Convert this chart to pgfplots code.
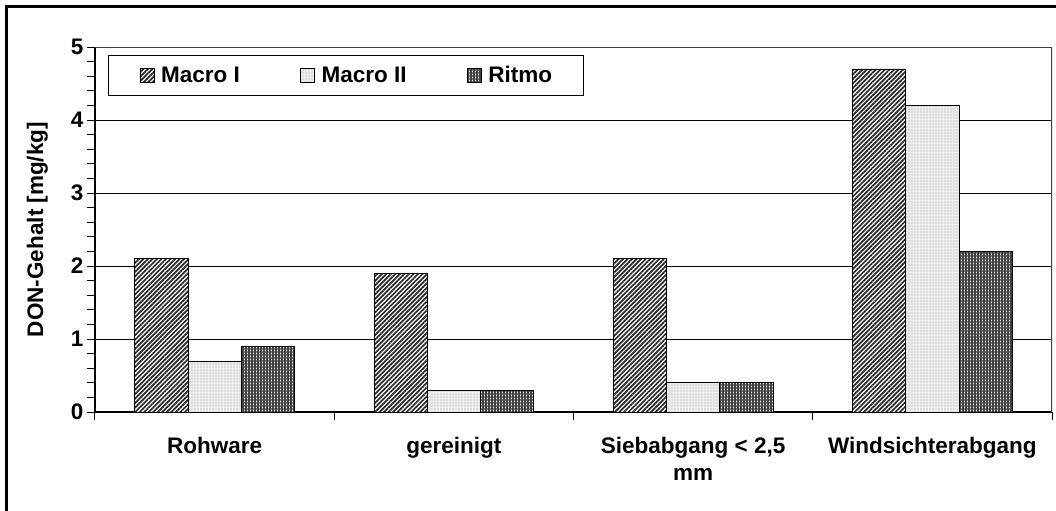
\documentclass[border=0pt]{standalone}
\usepackage{fontspec}
\setmainfont{Liberation Sans}
\usepackage{pgfplots}
\pgfplotsset{compat=1.18}
\usetikzlibrary{patterns.meta}
\pgfplotsset{
  mylegend/.style={legend image code/.code={\draw[##1,line width=0.7bp] (0bp,-7bp) rectangle (14bp,7bp);}},
}
\begin{document}
\begin{tikzpicture}[font=\bfseries\fontsize{22.5bp}{27bp}\selectfont]
\useasboundingbox (-95bp,-99bp) rectangle (961bp,412bp);
\begin{axis}[
  at={(0,0)}, anchor=south west,
  scale only axis, width=957bp, height=365bp,
  xmin=-0.5, xmax=3.5, ymin=0, ymax=5,
  axis x line*=bottom, axis y line*=left,
  axis line style={black, line width=1.3bp, -},
  ybar=0pt, bar width=53.2bp,
  xtick={0,1,2,3},
  xticklabels={Rohware, gereinigt, {Siebabgang < 2,5\\mm}, Windsichterabgang},
  x tick label style={align=center, yshift=-14bp},
  minor xtick={-0.5,0.5,1.5,2.5,3.5},
  major x tick style={draw=none},
  ytick={0,1,2,3,4,5}, minor y tick num=4,
  ymajorgrids, grid style={black, line width=1bp},
  tick align=outside,
  major tick length=8bp, minor tick length=8bp,
  tick style={black, line width=1bp},
  minor y tick style={line width=0.8bp},
  /pgf/number format/assume math mode=true,
  ylabel={DON-Gehalt [mg/kg]},
  ylabel style={at={(axis description cs:-0.049,0.5)}, anchor=south, inner sep=0pt},
  legend columns=3,
  legend style={at={(axis description cs:0.0136,0.978)}, anchor=north west,
    draw=black, line width=1bp, inner xsep=31bp, inner ysep=11bp,
    /tikz/every odd column/.append style={column sep=7bp},
    /tikz/every even column/.append style={column sep=60bp},
    nodes={inner sep=0bp}},
]
\addplot[draw=black, line width=0.8bp, fill=white,
  postaction={pattern={Lines[angle=45,distance=3.2bp,line width=1.7bp]}, pattern color=black!85}, mylegend]
  coordinates {(0,2.1) (1,1.9) (2,2.1) (3,4.7)};
\addplot[draw=black, line width=0.8bp, fill=black!7,
  postaction={pattern={Dots[radius=0.55bp,distance=3bp]}, pattern color=black!35}, mylegend]
  coordinates {(0,0.7) (1,0.3) (2,0.4) (3,4.2)};
\addplot[draw=black, line width=0.8bp, fill=white,
  postaction={pattern={Hatch[angle=0,distance=3bp,line width=1.1bp]}, pattern color=black!75}, mylegend]
  coordinates {(0,0.9) (1,0.3) (2,0.4) (3,2.2)};
\legend{Macro I, Macro II, Ritmo}
\draw[black!75, line width=1.5bp] (rel axis cs:0,1) -- (rel axis cs:1,1) -- (rel axis cs:1,0);
\end{axis}
\draw[black, line width=2.5bp] (-88.5bp,-120bp) -- (-88.5bp,405.5bp) -- (980bp,405.5bp);
\end{tikzpicture}
\end{document}
